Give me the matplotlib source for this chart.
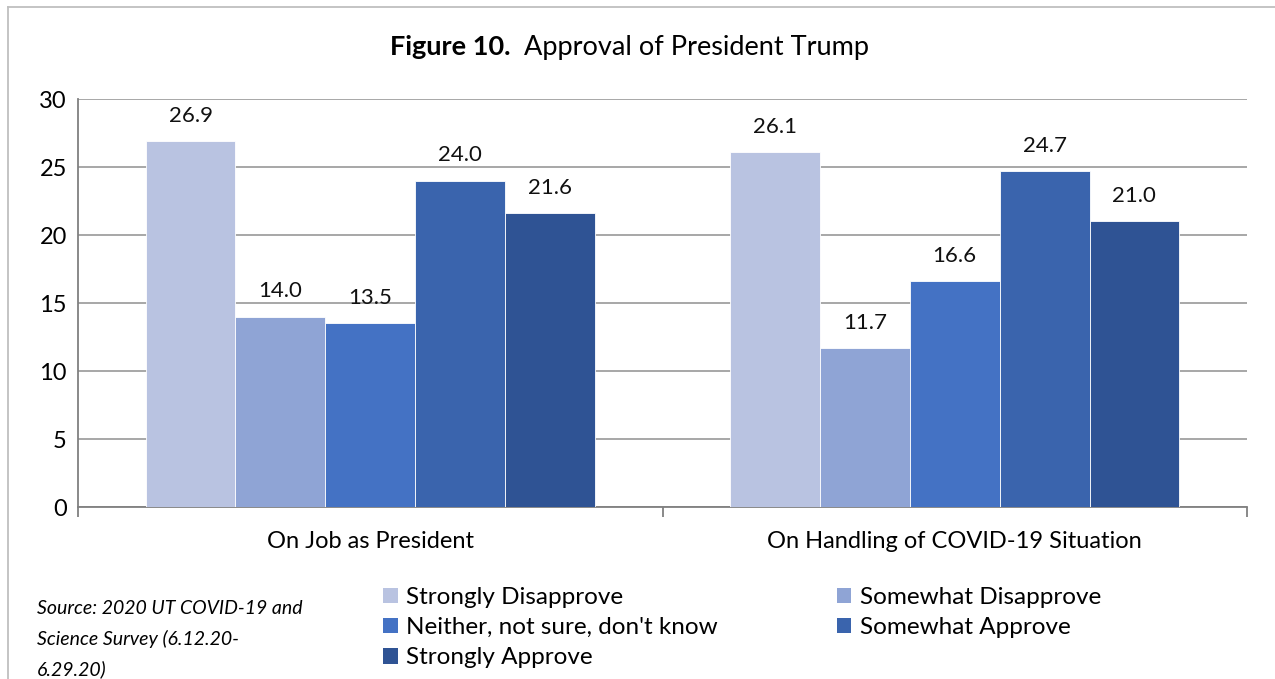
import numpy as np
import matplotlib
matplotlib.use("Agg")
import matplotlib.pyplot as plt
from matplotlib.patches import Patch
from matplotlib.lines import Line2D

plt.rcParams["font.family"] = ["Lato", "DejaVu Sans"]

categories = ["On Job as President", "On Handling of COVID-19 Situation"]
series = ["Strongly Disapprove", "Somewhat Disapprove", "Neither, not sure, don't know",
          "Somewhat Approve", "Strongly Approve"]
values = [
    [26.9, 26.1],
    [14.0, 11.7],
    [13.5, 16.6],
    [24.0, 24.7],
    [21.6, 21.0],
]
colors = ["#B9C3E1", "#8FA4D5", "#4472C4", "#3A64AD", "#2F5394"]

fig = plt.figure(figsize=(12.75, 6.79), dpi=100)
ax = fig.add_axes([78 / 1275, 1 - 507 / 679, (1247 - 78) / 1275, (507 - 99) / 679])

x = np.arange(len(categories))
w = 0.1537
for i, (name, vals) in enumerate(zip(series, values)):
    pos = x + (i - 2) * w
    ax.bar(pos, vals, width=w, color=colors[i], edgecolor="white", linewidth=0.6,
           label=name, zorder=3)
    for p, v in zip(pos, vals):
        ax.annotate(f"{v:.1f}", (p, v), xytext=(0, 11), textcoords="offset points",
                    ha="center", va="bottom", fontsize=16, color="#111111")

ax.set_xlim(-0.5, 1.5)
ax.set_ylim(0, 30)
ax.set_yticks(range(0, 31, 5))
ax.yaxis.grid(True, color="#A0A0A0", linewidth=1.3, zorder=0)
ax.set_axisbelow(True)
ax.set_xticks([-0.5, 0.5, 1.5])
ax.set_xticklabels([])
ax.set_xticks(x, minor=True)
ax.set_xticklabels(categories, minor=True, fontsize=17)
ax.tick_params(axis="x", which="major", length=7, color="#808080", width=1.3, direction="out")
ax.tick_params(axis="x", which="minor", length=0, pad=17)
ax.tick_params(axis="y", length=0, pad=8, labelsize=17)
for side in ["top", "right"]:
    ax.spines[side].set_visible(False)
for side in ["left", "bottom"]:
    ax.spines[side].set_color("#808080")
    ax.spines[side].set_linewidth(1.3)

# title: bold part + regular part
fig.text(510 / 1275, 1 - 47 / 679, "Figure 10.", ha="right", va="center",
         fontsize=19.5, fontweight="bold")
fig.text(524 / 1275, 1 - 47 / 679, "Approval of President Trump", ha="left",
         va="center", fontsize=19.5)

order = [0, 2, 4, 1, 3]
handles = [Patch(facecolor=colors[i], edgecolor="none") for i in order]
labels = [series[i] for i in order]
fig.legend(handles, labels, ncol=2, loc="upper left",
           bbox_to_anchor=(383 / 1275, 1 - 587 / 679), frameon=False, fontsize=17.5,
           handlelength=0.6, handleheight=0.6, handletextpad=0.35,
           columnspacing=4.9, labelspacing=0.38, borderaxespad=0, borderpad=0)

fig.text(37 / 1275, 1 - 600 / 679, "Source: 2020 UT COVID-19 and\nScience Survey (6.12.20-\n6.29.20)",
         ha="left", va="top", fontsize=14, style="italic", linespacing=1.84)

fig.add_artist(Line2D([8 / 1275, 8 / 1275], [0, 1 - 7 / 679], color="#BFBFBF", linewidth=1.3))
fig.add_artist(Line2D([8 / 1275, 1], [1 - 7 / 679, 1 - 7 / 679], color="#BFBFBF", linewidth=1.3))

fig.savefig("out.png", dpi=100)
